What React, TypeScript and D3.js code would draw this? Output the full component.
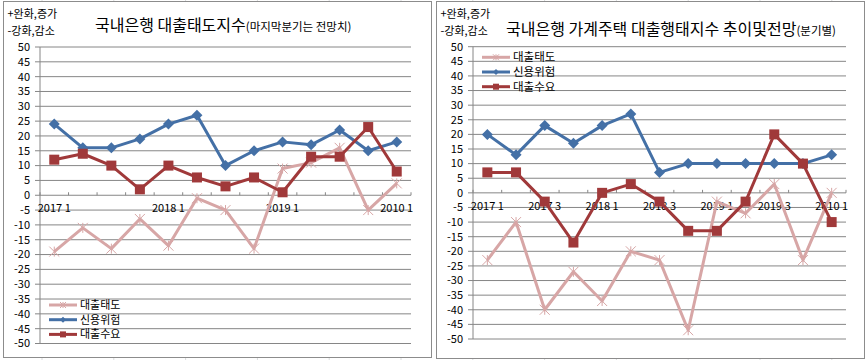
import React from "react";
import * as d3 from "d3";

// category labels (13 quarters, only some are shown on the axis)
const leftLabels = ["2017 1", "", "", "", "2018 1", "", "", "", "2019 1", "", "", "", "2010 1"];
const rightLabels = ["2017 1", "", "2017 3", "", "2018 1", "", "2018 3", "", "2019 1", "", "2019 3", "", "2010 1"];

const seriesNames = ["대출태도", "신용위험", "대출수요"];

// left chart: 국내은행 대출태도지수
const leftAttitude = [-19, -11, -18, -8, -17, -1, -5, -18, 9, 11, 16, -5, 4];
const leftCredit = [24, 16, 16, 19, 24, 27, 10, 15, 18, 17, 22, 15, 18];
const leftDemand = [12, 14, 10, 2, 10, 6, 3, 6, 1, 13, 13, 23, 8];

// right chart: 가계주택 대출행태지수
const rightAttitude = [-23, -10, -40, -27, -37, -20, -23, -47, -3, -7, 3, -23, 0];
const rightCredit = [20, 13, 23, 17, 23, 27, 7, 10, 10, 10, 10, 10, 13];
const rightDemand = [7, 7, -3, -17, 0, 3, -3, -13, -13, -3, 20, 10, -10];

const yTicks = d3.range(-50, 51, 5);

const colors = ["#D7A6A6", "#4470A6", "#A0393A"];
const font = "'Noto Sans CJK KR', 'Noto Sans', sans-serif";

const Marker = ({ type, x, y, s }) => {
  if (type === 0) {
    // asterisk
    const r = s / 2;
    return (
      <g stroke={colors[0]} strokeWidth={1}>
        <line x1={x - r} y1={y - r} x2={x + r} y2={y + r} />
        <line x1={x - r} y1={y + r} x2={x + r} y2={y - r} />
        <line x1={x} y1={y - r} x2={x} y2={y + r} />
      </g>
    );
  }
  if (type === 1) {
    const r = s / 2;
    return <path d={`M${x},${y - r}L${x + r},${y}L${x},${y + r}L${x - r},${y}Z`} fill={colors[1]} />;
  }
  return <rect x={x - s / 2} y={y - s / 2} width={s} height={s} fill={colors[2]} />;
};

const Panel = ({ box, plot, labels, series, title, titleX, titleY, sub, legend }) => {
  const x = d3.scaleBand().domain(d3.range(13)).range([plot.left, plot.right]);
  const y = d3.scaleLinear().domain([-50, 50]).range([plot.bottom, plot.top]);
  const line = d3.line().x((d, i) => x(i) + x.bandwidth() / 2).y((d) => y(d));
  const y0 = y(0);
  return (
    <g fontFamily={font}>
      <rect x={box.x} y={box.y} width={box.w} height={box.h} fill="#fff" stroke="#8c8c8c" />
      <text x={box.x + 4} y={box.y + 16} fontSize={11} fill="#000">+완화,증가</text>
      <text x={box.x + 4} y={box.y + 33} fontSize={11} fill="#000">-강화,감소</text>
      <text x={titleX} y={titleY} fontSize={16} fill="#000">
        {title}
        <tspan fontSize={11.5}>{sub}</tspan>
      </text>
      {yTicks.map((t) => (
        <g key={t}>
          <line x1={plot.left} x2={plot.right} y1={y(t)} y2={y(t)} stroke="#868686" strokeWidth={1} />
          <line x1={plot.left - 5} x2={plot.left} y1={y(t)} y2={y(t)} stroke="#868686" />
          <text x={plot.left - 10} y={y(t)} dy="0.35em" textAnchor="end" fontSize={11} fill="#000">{t}</text>
        </g>
      ))}
      <line x1={plot.left} x2={plot.left} y1={plot.top} y2={plot.bottom} stroke="#868686" />
      {d3.range(14).map((i) => {
        const xx = plot.left + i * x.step();
        return <line key={i} x1={xx} x2={xx} y1={y0 - 3} y2={y0} stroke="#868686" />;
      })}
      {labels.map((l, i) =>
        l ? (
          <text key={i} x={x(i) + x.bandwidth() / 2} y={y0 + 13} dy="0.35em" textAnchor="middle" fontSize={11} fill="#000">{l}</text>
        ) : null
      )}
      {series.map((s, k) => (
        <g key={k}>
          <path d={line(s)} fill="none" stroke={colors[k]} strokeWidth={3} strokeLinejoin="round" />
          {s.map((v, i) => (
            <Marker key={i} type={k} x={x(i) + x.bandwidth() / 2} y={y(v)} s={k === 1 ? 11 : 10} />
          ))}
        </g>
      ))}
      {seriesNames.map((n, k) => {
        const ly = legend.y + k * legend.gap;
        return (
          <g key={n}>
            <line x1={legend.x} x2={legend.x + 28} y1={ly} y2={ly} stroke={colors[k]} strokeWidth={3} />
            <Marker type={k} x={legend.x + 14} y={ly} s={6} />
            <text x={legend.x + 31} y={ly} dy="0.35em" fontSize={legend.size} fill="#000">{n}</text>
          </g>
        );
      })}
    </g>
  );
};

const App = () => {
  const cols = d3.range(0, 13).map((i) => 42 + i * 71.8);
  return (
    <svg width={868} height={360} style={{ position: "absolute", left: 0, top: 0 }}>
      <rect width={868} height={360} fill="#fff" />
      {cols.map((c, i) => (
        <line key={i} x1={c} x2={c} y1={0} y2={360} stroke="#dadcdd" />
      ))}
      <Panel
        box={{ x: 3.5, y: 1.5, w: 428, h: 356 }}
        plot={{ left: 40, right: 411, top: 47, bottom: 343.5 }}
        labels={leftLabels}
        series={[leftAttitude, leftCredit, leftDemand]}
        title="국내은행 대출태도지수"
        sub="(마지막분기는 전망치)"
        titleX={95}
        titleY={31}
        legend={{ x: 49, y: 305, gap: 14.7, size: 11 }}
      />
      <Panel
        box={{ x: 436.5, y: 1.5, w: 428, h: 357 }}
        plot={{ left: 473, right: 846, top: 46.7, bottom: 339 }}
        labels={rightLabels}
        series={[rightAttitude, rightCredit, rightDemand]}
        title="국내은행 가계주택 대출행태지수 추이및전망"
        sub="(분기별)"
        titleX={506}
        titleY={35}
        legend={{ x: 482, y: 57.3, gap: 14.7, size: 11.5 }}
      />
    </svg>
  );
};

export default App;
